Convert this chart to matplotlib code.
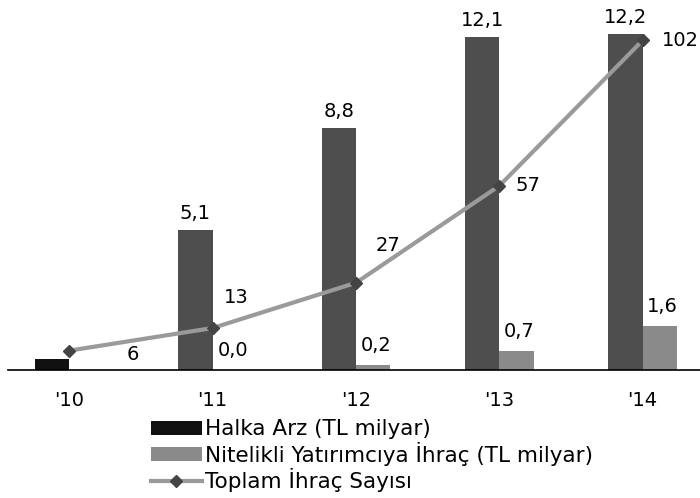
import matplotlib.pyplot as plt
import numpy as np

years = ["'10", "'11", "'12", "'13", "'14"]
halka_arz = [0.4, 5.1, 8.8, 12.1, 12.2]
nitelikli = [0.0, 0.0, 0.2, 0.7, 1.6]
toplam_ihrac = [6, 13, 27, 57, 102]

halka_labels = [None, "5,1", "8,8", "12,1", "12,2"]
nitelikli_labels = [None, "0,0", "0,2", "0,7", "1,6"]

plt.rcParams['font.family'] = ['DejaVu Sans']

fig = plt.figure(figsize=(7, 4.98), dpi=100)
ax = fig.add_axes([0.011, 0.257, 0.989, 0.743])

x = np.arange(len(years))
w = 0.24
halka_colors = ['#111111'] + ['#4e4e4e'] * (len(years) - 1)
ax.bar(x - w / 2, halka_arz, width=w, color=halka_colors, label="Halka Arz (TL milyar)")
ax.bar(x + w / 2, nitelikli, width=w, color='#8a8a8a',
       label="Nitelikli Yatırımcıya İhraç (TL milyar)")

for xi, v, lab in zip(x, halka_arz, halka_labels):
    if lab:
        ax.annotate(lab, (xi - w / 2, v), xytext=(0, 5), textcoords='offset points',
                    ha='center', va='bottom', fontsize=14)
for xi, v, lab in zip(x, nitelikli, nitelikli_labels):
    if lab:
        ax.annotate(lab, (xi + w / 2, v), xytext=(2, 7), textcoords='offset points',
                    ha='center', va='bottom', fontsize=14)

ax.set_xlim(-0.43, 4.4)
ax.set_ylim(0, 13.45)
ax.set_xticks(x)
ax.set_xticklabels(years, fontsize=14)
ax.tick_params(axis='x', length=0, pad=15)
ax.set_yticks([])
for s in ['top', 'right', 'left']:
    ax.spines[s].set_visible(False)
ax.spines['bottom'].set_linewidth(1.2)

ax2 = ax.twinx()
ax2.plot(x, toplam_ihrac, color='#9a9a9a', lw=3, marker='D', markersize=6,
         markerfacecolor='#444444', markeredgecolor='#444444',
         label="Toplam İhraç Sayısı")
ax2.set_ylim(0, 114.5)
ax2.set_yticks([])
for s in ['top', 'right', 'left', 'bottom']:
    ax2.spines[s].set_visible(False)

line_offsets = [(41, -3), (8, 22), (14, 27), (12, 0), (14, 0)]
for xi, v, off in zip(x, toplam_ihrac, line_offsets):
    ax2.annotate(str(v), (xi, v), xytext=off, textcoords='offset points',
                 ha='left', va='center', fontsize=14)

h1, l1 = ax.get_legend_handles_labels()
h2, l2 = ax2.get_legend_handles_labels()
fig.legend(h1 + h2, l1 + l2, loc='upper left', bbox_to_anchor=(0.215, 0.158),
           frameon=False, fontsize=15.5, labelspacing=0.12, handletextpad=0.15,
           handlelength=2.4, handleheight=0.6, borderaxespad=0, borderpad=0)

fig.savefig("out.png", dpi=100)
